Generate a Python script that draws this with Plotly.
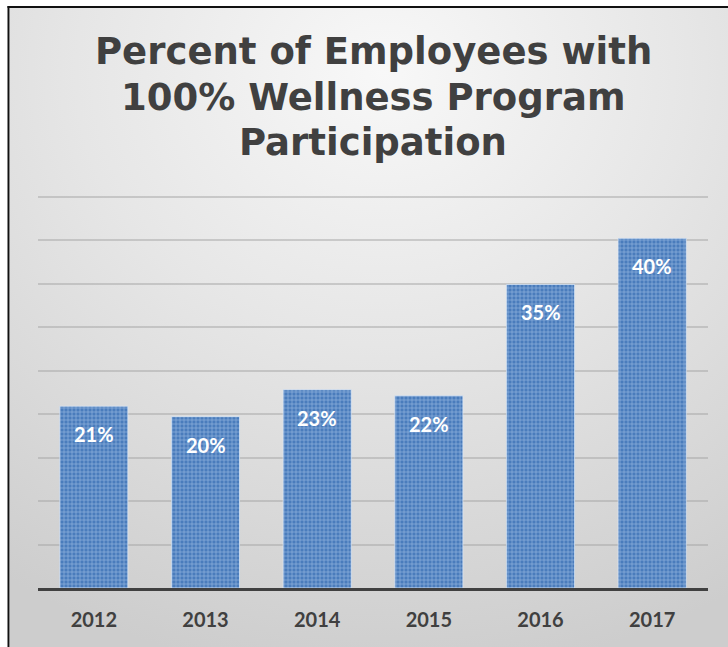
import base64
import plotly.graph_objects as go

years = ["2012", "2013", "2014", "2015", "2016", "2017"]
participation = [20.9, 19.7, 22.8, 22.1, 34.9, 40.2]
title_lines = ["Percent of Employees with", "100% Wellness Program", "Participation"]

W, H = 728, 647
L, R, T, B = 38, 20, 194, 59
pw, ph = W - L - R, H - T - B


def px_x(p):
    return (p - L) / pw


def px_y(p):
    return (H - B - p) / ph


svg = (
    '<svg xmlns="http://www.w3.org/2000/svg" width="718" height="639">'
    '<defs><radialGradient id="g" cx="0.52" cy="0.1" r="0.95">'
    '<stop offset="0" stop-color="#f8f8f8"/>'
    '<stop offset="0.45" stop-color="#e6e6e6"/>'
    '<stop offset="1" stop-color="#cdcdcd"/>'
    '</radialGradient></defs>'
    '<rect width="718" height="639" fill="url(#g)"/></svg>'
)
src = "data:image/svg+xml;base64," + base64.b64encode(svg.encode()).decode()

fig = go.Figure()
fig.add_trace(go.Bar(
    x=years, y=participation, width=0.61,
    marker=dict(
        color="#4f80be",
        line=dict(color="rgba(220,232,248,0.7)", width=1),
        pattern=dict(shape="+", size=4, solidity=0.3,
                     fgcolor="#93b4df", bgcolor="#4a7cbc", fillmode="replace"),
    ),
    hoverinfo="skip",
))

for i, v in enumerate(participation):
    fig.add_annotation(x=i, y=v, text=f"{round(v)}%", showarrow=False,
                       yshift=-28, yanchor="middle",
                       font=dict(family="Lato", size=20, color="white", weight="bold"))

centers = [52, 97, 142]
for line, cy in zip(title_lines, centers):
    fig.add_annotation(xref="paper", yref="paper", x=0.5, y=px_y(cy),
                       text=line, showarrow=False, xanchor="center", yanchor="middle",
                       font=dict(family="DejaVu Sans", size=37, color="#404040", weight="bold"))

fig.add_layout_image(dict(source=src, xref="paper", yref="paper",
                          x=px_x(10), y=px_y(8), sizex=718 / pw, sizey=639 / ph,
                          xanchor="left", yanchor="top", sizing="stretch", layer="below"))

fig.add_shape(type="line", xref="paper", yref="paper", x0=px_x(8.5), x1=px_x(8.5),
              y0=px_y(6), y1=px_y(H + 5), line=dict(color="#111111", width=2))
fig.add_shape(type="line", xref="paper", yref="paper", x0=px_x(7.5), x1=px_x(W + 5),
              y0=px_y(7), y1=px_y(7), line=dict(color="#111111", width=2))

fig.update_layout(
    width=W, height=H,
    margin=dict(l=L, r=R, t=T, b=B),
    paper_bgcolor="white", plot_bgcolor="rgba(0,0,0,0)",
    showlegend=False, bargap=0.39,
    xaxis=dict(type="category", range=[-0.5, len(years) - 0.5],
               showline=True, linecolor="#404040", linewidth=3,
               showgrid=False, ticks="", ticklabelstandoff=12,
               tickfont=dict(family="Lato", size=20, color="#404040", weight="bold")),
    yaxis=dict(range=[0, 45.3], dtick=5, showticklabels=False, zeroline=False,
               showgrid=True, gridcolor="rgba(165,165,165,0.5)", gridwidth=1.5,
               fixedrange=True),
)

fig.write_html("out.html")
